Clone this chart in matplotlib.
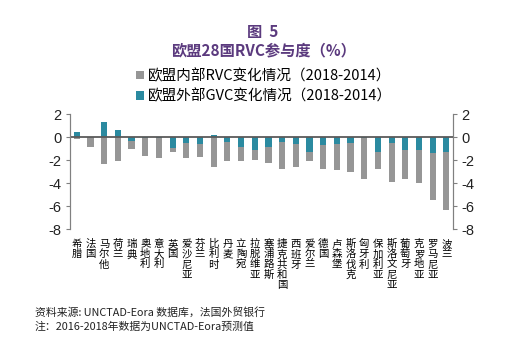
import numpy as np
import matplotlib.pyplot as plt

plt.rcParams['font.family'] = ['Noto Sans CJK SC', 'DejaVu Sans']

countries = ['希腊', '法国', '马尔他', '荷兰', '瑞典', '奥地利', '意大利', '英国',
             '爱沙尼亚', '芬兰', '比利时', '丹麦', '立陶宛', '拉脱维亚', '塞浦路斯',
             '捷克共和国', '西班牙', '爱尔兰', '德国', '卢森堡', '斯洛伐克', '匈牙利',
             '保加利亚', '斯洛文尼亚', '葡萄牙', '克罗地亚', '罗马尼亚', '波兰']
# 欧盟内部RVC变化情况（2018-2014）
rvc_in = [-0.2, -0.9, -2.35, -2.05, -1.07, -1.65, -1.8, -1.33,
          -1.85, -1.74, -2.58, -2.1, -2.1, -2.0, -2.26,
          -2.75, -2.58, -2.1, -2.78, -2.84, -3.04, -3.6,
          -2.78, -3.88, -3.65, -3.97, -5.45, -6.29]
# 欧盟外部GVC变化情况（2018-2014）
gvc_out = [0.4, -0.03, 1.3, 0.64, -0.35, -0.04, -0.04, -0.93,
           -0.55, -0.6, 0.15, -0.4, -0.9, -1.13, -0.84,
           -0.4, -0.6, -1.33, -0.7, -0.64, -0.55, -0.04,
           -1.3, -0.55, -1.13, -1.16, -1.42, -1.3]

gray = '#969696'
teal = '#2b8aa0'
purple = '#5b3a7e'
spine_c = '#808080'

fig = plt.figure(figsize=(5.12, 3.38), dpi=100)
ax = fig.add_axes([0.1367, 0.3216, 0.7484, 0.3411])

x = np.arange(len(countries))
b1 = ax.bar(x, rvc_in, width=0.45, color=gray, zorder=2,
            label='欧盟内部RVC变化情况（2018-2014）')
b2 = ax.bar(x, gvc_out, width=0.45, color=teal, zorder=3,
            label='欧盟外部GVC变化情况（2018-2014）')
ax.axhline(0, color='#5a5a5a', lw=1.3, zorder=4)

ax.set_xlim(-0.5, len(countries) - 0.5)
ax.set_ylim(-8, 2)
ticks = [2, 0, -2, -4, -6, -8]
ax.set_yticks(ticks)
ax.set_yticklabels([str(t) for t in ticks])

ax2 = ax.twinx()
ax2.set_ylim(-8, 2)
ax2.set_yticks(ticks)
ax2.set_yticklabels([str(t) for t in ticks])

for a in (ax, ax2):
    a.spines['top'].set_visible(False)
    a.spines['bottom'].set_visible(False)
    a.spines['left'].set_color(spine_c)
    a.spines['right'].set_color(spine_c)
    a.tick_params(axis='y', colors=spine_c, labelcolor='#222222',
                  labelsize=10.5, length=3, width=0.8, pad=3)
    for lab in a.get_yticklabels():
        lab.set_family('Liberation Sans')

ax.set_xticks(x)
ax.set_xticklabels(['\n'.join(c) for c in countries], fontsize=7.5,
                   va='top', linespacing=1.02)
ax.tick_params(axis='x', length=0, pad=7)

fig.text(0.514, 0.905, '图  5', ha='center', va='center', fontsize=11,
         fontweight='bold', color=purple)
fig.text(0.514, 0.852, '欧盟28国RVC参与度（%）', ha='center', va='center',
         fontsize=11, fontweight='bold', color=purple)

fig.legend(handles=[b1, b2], loc='center left', bbox_to_anchor=(0.252, 0.745),
           frameon=False, fontsize=10.5, handlelength=0.5, handleheight=0.5,
           handletextpad=0.3, labelspacing=0.4, borderpad=0)

fig.text(0.068, 0.077, '资料来源: UNCTAD-Eora 数据库，法国外贸银行', fontsize=7.8,
         color='#222222', va='center')
fig.text(0.068, 0.032, '注：2016-2018年数据为UNCTAD-Eora预测值', fontsize=7.8,
         color='#222222', va='center')

fig.savefig('out.png', dpi=100)
